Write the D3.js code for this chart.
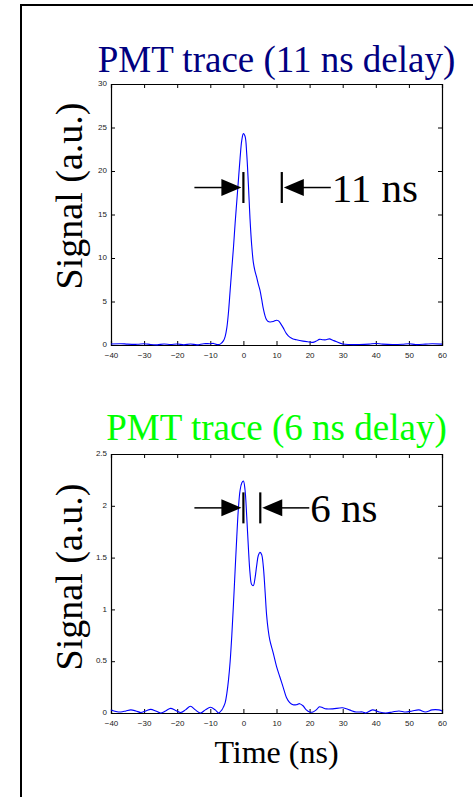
<!DOCTYPE html>
<html><head><meta charset="utf-8">
<script src="https://cdn.jsdelivr.net/npm/d3@7"></script>
<style>html,body{margin:0;padding:0;background:#fff;}svg{display:block;}</style>
</head><body>
<script>
// ---- data ----
const xTicks = [-40,-30,-20,-10,0,10,20,30,40,50,60];
const yTicks1 = [0,5,10,15,20,25,30];
const yTicks2 = [0,0.5,1,1.5,2,2.5];
const title1 = "PMT trace (11 ns delay)";
const title2 = "PMT trace (6 ns delay)";
const yLabel = "Signal (a.u.)";
const xLabel = "Time (ns)";

const t1 = [-40,-37,-35,-32,-30,-28,-26,-24,-22,-20,-18,-16,-14,-12,-10,-9,-8,-7,-6,-5.5,-5,-4.5,-4,-3.5,-3,-2.5,-2,-1.5,-1,-0.5,0,0.5,1,1.5,2,2.5,3,3.5,4,4.5,5,5.5,6,6.5,7,7.5,8,9,10,10.5,11,12,13,14,15,16,18,20,21,22,23,24,25,26,27,28,30,32,35,38,40,42,45,48,50,52,55,57,60];
const v1 = [0.12,0.15,0.1,0.08,0.15,0.05,0.02,0.12,0.05,0.12,0.02,0.12,0.02,0.15,0.15,0.18,0.05,0.1,0.5,1.0,2.0,3.8,6.3,8.8,11.2,14.0,16.5,19.0,21.5,23.5,24.3,24.0,22.0,18.5,14.5,11.5,9.5,8.5,7.8,7.0,6.3,5.3,4.2,3.4,2.9,2.7,2.65,2.7,2.85,2.8,2.6,2.0,1.3,0.9,0.7,0.6,0.45,0.35,0.3,0.45,0.65,0.6,0.6,0.7,0.55,0.4,0.12,0.05,0.05,0.1,0.18,0.1,0.05,0.08,0.15,0.05,0.1,0.15,0.1];

const t2 = [-40,-38.5,-37,-35.5,-34,-32.5,-31,-29.5,-28,-26.5,-25,-23.5,-22,-20.5,-19,-17.5,-16,-14.5,-13,-11.5,-10,-8.5,-7.5,-6.5,-6,-5.5,-5,-4.5,-4,-3.5,-3,-2.5,-2,-1.5,-1,-0.5,0,0.5,1,1.5,2,2.5,3,3.5,4,4.5,5,5.5,6,6.5,7,7.5,8,9,10,11,12,13,14,15,16,17,18,19,20,21,22,23,24,25,27,30,32,34,36,37,39,41,43,45,47,49,51,53,55,57,59,60];
const v2 = [0.03,0.015,0.01,0.02,0.03,0.02,0.005,0.02,0.035,0.02,0.0,0.02,0.045,0.025,0.005,0.03,0.065,0.03,0.0,0.03,0.055,0.03,0.0,0.03,0.06,0.1,0.19,0.32,0.5,0.75,1.05,1.38,1.7,1.98,2.15,2.22,2.24,2.15,1.9,1.6,1.35,1.24,1.23,1.3,1.42,1.52,1.55,1.53,1.42,1.2,0.95,0.8,0.7,0.58,0.45,0.35,0.25,0.15,0.1,0.08,0.08,0.09,0.07,0.03,0.01,0.01,0.03,0.06,0.05,0.04,0.04,0.05,0.03,0.01,0.01,0.0,0.03,0.01,0.0,0.01,0.02,0.01,0.02,0.03,0.01,0.03,0.03,0.02];

// annotation: marker times and label
const ann1 = {left:0, right:11.6, y:18.1, text:"11 ns"};
const ann2 = {left:0, right:5.1, y:1.98, text:"6 ns"};

// ---- drawing ----
const W = 473, H = 797;
const svg = d3.select("body").append("svg").attr("width", W).attr("height", H);

svg.append("rect").attr("x", 21).attr("y", 5).attr("width", 470).attr("height", 820)
  .attr("fill", "none").attr("stroke", "#000").attr("stroke-width", 2);

const serif = "'Liberation Serif','Times New Roman',serif";
const sans = "'Liberation Sans',Arial,Helvetica,sans-serif";

function panel(cfg) {
  const {top, bottom, left, right, ymax, yTicks, t, v, title, titleColor, titleY, ann, labelY} = cfg;
  const x = d3.scaleLinear().domain([-40, 60]).range([left, right]);
  const y = d3.scaleLinear().domain([0, ymax]).range([bottom, top]);
  const g = svg.append("g");

  // title
  g.append("text").attr("x", (left + right) / 2).attr("y", titleY)
    .attr("text-anchor", "middle").attr("font-family", serif).attr("font-size", 37)
    .attr("fill", titleColor).text(title);

  // y label
  g.append("text").attr("transform", `translate(82,${labelY}) rotate(-90)`)
    .attr("text-anchor", "middle").attr("font-family", serif).attr("font-size", 38)
    .attr("fill", "#000").text(yLabel);

  // axes
  const fmt = d => (d < 0 ? "\u2212" + Math.abs(d) : String(d));
  const ax = g.append("g").attr("transform", `translate(0,${bottom})`)
    .call(d3.axisBottom(x).tickValues(xTicks).tickSize(-4).tickPadding(7).tickFormat(fmt));
  const axT = g.append("g").attr("transform", `translate(0,${top})`)
    .call(d3.axisTop(x).tickValues(xTicks).tickSize(-4).tickFormat(""));
  const ay = g.append("g").attr("transform", `translate(${left},0)`)
    .call(d3.axisLeft(y).tickValues(yTicks).tickSize(-4).tickPadding(4).tickFormat(d => String(d)));
  const ayR = g.append("g").attr("transform", `translate(${right},0)`)
    .call(d3.axisRight(y).tickValues(yTicks).tickSize(-4).tickFormat(""));
  [ax, axT, ay, ayR].forEach(a => {
    a.select(".domain").attr("stroke", "#000").attr("stroke-width", 1.2);
    a.selectAll(".tick line").attr("stroke", "#000").attr("stroke-width", 1);
    a.selectAll("text").attr("font-family", sans).attr("font-size", 8).attr("fill", "#222");
  });
  ay.selectAll("text").attr("dy", "0.2em");

  // line
  const line = d3.line().x((d, i) => x(t[i])).y((d, i) => y(v[i])).curve(d3.curveCatmullRom.alpha(0.5));
  g.append("path").datum(v).attr("d", line).attr("fill", "none")
    .attr("stroke", "#0000ff").attr("stroke-width", 1.1);

  // annotation arrows
  const ay0 = y(ann.y);
  const xl = x(ann.left), xr = x(ann.right);
  const barH = 15.5, triL = 20, triH = 8.5;
  const ag = g.append("g").attr("stroke", "#000").attr("fill", "#000");
  ag.append("line").attr("x1", xl).attr("x2", xl).attr("y1", ay0 - barH).attr("y2", ay0 + barH).attr("stroke-width", 2.2);
  ag.append("line").attr("x1", xr).attr("x2", xr).attr("y1", ay0 - barH).attr("y2", ay0 + barH).attr("stroke-width", 2.2);
  ag.append("line").attr("x1", xl - 49).attr("x2", xl - triL).attr("y1", ay0).attr("y2", ay0).attr("stroke-width", 1.5);
  ag.append("path").attr("d", `M${xl - 2},${ay0} L${xl - 2 - triL},${ay0 - triH} L${xl - 2 - triL},${ay0 + triH} Z`).attr("stroke", "none");
  ag.append("path").attr("d", `M${xr + 2},${ay0} L${xr + 2 + triL},${ay0 - triH} L${xr + 2 + triL},${ay0 + triH} Z`).attr("stroke", "none");
  ag.append("line").attr("x1", xr + triL).attr("x2", xr + 49).attr("y1", ay0).attr("y2", ay0).attr("stroke-width", 1.5);
  g.append("text").attr("x", xr + 50).attr("y", ay0 + 14).attr("font-family", serif)
    .attr("font-size", 41).attr("fill", "#000").text(ann.text);
}

panel({top: 84, bottom: 345, left: 111, right: 442, ymax: 30, yTicks: yTicks1, t: t1, v: v1,
  title: title1, titleColor: "#000080", titleY: 72, ann: ann1, labelY: 196});
panel({top: 454, bottom: 713, left: 111, right: 442, ymax: 2.5, yTicks: yTicks2, t: t2, v: v2,
  title: title2, titleColor: "#00ff00", titleY: 440, ann: ann2, labelY: 577});

svg.append("text").attr("x", 276.5).attr("y", 763).attr("text-anchor", "middle")
  .attr("font-family", serif).attr("font-size", 32).attr("fill", "#000").text(xLabel);
</script>
</body></html>
